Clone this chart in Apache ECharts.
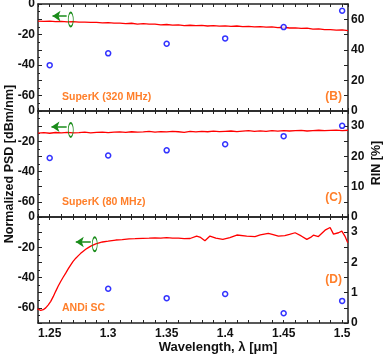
<!DOCTYPE html>
<html>
<head>
<meta charset="utf-8">
<script src="https://cdn.jsdelivr.net/npm/echarts@6/dist/echarts.min.js"></script>
<style>
  html, body { margin: 0; padding: 0; background: #fff; }
  #chart { width: 390px; height: 358px; }
</style>
</head>
<body>
<div id="chart"></div>
<script>
// wavelengths (um) for the SuperK spectra
var wlSpec = [1.240, 1.245, 1.250, 1.255, 1.260, 1.265, 1.270, 1.275, 1.280, 1.285,
  1.290, 1.295, 1.300, 1.305, 1.310, 1.315, 1.320, 1.325, 1.330, 1.335,
  1.340, 1.345, 1.350, 1.355, 1.360, 1.365, 1.370, 1.375, 1.380, 1.385,
  1.390, 1.395, 1.400, 1.405, 1.410, 1.415, 1.420, 1.425, 1.430, 1.435,
  1.440, 1.445, 1.450, 1.455, 1.460, 1.465, 1.470, 1.475, 1.480, 1.485,
  1.490, 1.495, 1.500, 1.505];
// PSD (dBm/nm), SuperK 320 MHz
var psdB = [-11.2, -11.4, -11.2, -11.5, -11.4, -11.7, -11.5, -11.9, -11.8, -12.0,
  -12.0, -12.3, -12.2, -12.5, -12.5, -12.8, -12.6, -13.1, -12.9, -13.2,
  -13.2, -13.6, -13.4, -13.8, -13.7, -14.2, -13.9, -14.2, -14.0, -14.4,
  -14.1, -14.5, -14.3, -14.7, -14.4, -14.8, -14.6, -15.0, -14.8, -15.1,
  -15.0, -15.4, -15.2, -15.7, -15.6, -16.0, -15.8, -16.4, -16.3, -16.7,
  -16.7, -17.1, -16.9, -17.4];
// PSD (dBm/nm), SuperK 80 MHz
var psdC = [-14.6, -14.3, -14.7, -14.2, -14.5, -14.1, -14.4, -14.3, -14.0, -14.4,
  -14.1, -13.9, -14.3, -14.0, -13.8, -14.1, -13.7, -14.0, -13.8, -13.5,
  -13.9, -13.6, -13.8, -13.4, -13.7, -14.1, -13.5, -13.8, -13.4, -13.7,
  -13.3, -13.6, -13.4, -13.2, -13.6, -13.3, -13.0, -13.4, -13.1, -13.5,
  -13.0, -13.3, -12.9, -13.2, -13.0, -12.8, -13.2, -12.9, -12.7, -13.0,
  -12.8, -12.6, -12.9, -12.7];
// ANDi SC spectrum
var wlAndi = [1.2395, 1.2423, 1.2445, 1.2466, 1.2488, 1.2509, 1.2530, 1.2551, 1.2573, 1.2594,
  1.2615, 1.2637, 1.2658, 1.2680, 1.2700, 1.2723, 1.2745, 1.2765, 1.2787, 1.2808,
  1.2830, 1.2851, 1.2894, 1.2951, 1.3000, 1.3065, 1.3120, 1.3179, 1.3230, 1.3294,
  1.3350, 1.3400, 1.3450, 1.3500, 1.3550, 1.3600, 1.3650, 1.3700, 1.3756, 1.3790,
  1.3827, 1.3870, 1.3920, 1.3980, 1.4040, 1.4100, 1.4184, 1.4255, 1.4300, 1.4369,
  1.4410, 1.4455, 1.4510, 1.4550, 1.4598, 1.4650, 1.4698, 1.4730, 1.4754, 1.4797,
  1.4854, 1.4897, 1.4926, 1.4969, 1.4997, 1.5026, 1.5048];
var psdD = [-60.7, -61.6, -61.2, -60.0, -58.0, -55.7, -52.6, -49.1, -45.6, -42.6,
  -39.8, -37.1, -34.3, -31.6, -29.3, -27.2, -25.5, -24.0, -22.6, -21.3,
  -20.2, -19.2, -17.8, -16.5, -16.0, -15.2, -14.9, -14.4, -14.3, -14.1,
  -14.0, -13.8, -14.0, -13.6, -13.9, -14.0, -14.3, -14.2, -12.6, -13.5,
  -15.7, -12.6, -14.0, -14.8, -13.6, -11.9, -12.6, -12.9, -11.8, -10.8,
  -11.6, -12.6, -12.3, -11.5, -10.4, -12.5, -14.8, -13.5, -12.0, -12.9,
  -8.7, -6.9, -11.3, -10.4, -9.3, -13.0, -17.0];

// RIN (%) measured points
var wlRin = [1.25, 1.3, 1.35, 1.4, 1.45, 1.5];
var rinB = [30.0, 37.7, 44.0, 47.5, 54.9, 65.6];
var rinC = [19.5, 20.3, 22.0, 24.0, 26.7, 30.1];
var rinD = [null, 1.13, 0.82, 0.96, 0.32, 0.73];

// tick labels
var wlTicks = [1.25, 1.3, 1.35, 1.4, 1.45, 1.5];
var psdTicks = [-60, -40, -20, 0];
var rinTicks = [[0, 20, 40, 60], [0, 10, 20, 30], [0, 1, 2, 3]];
var rinMax = [70, 35, 3.5];
var rinStep = [10, 5, 0.5];

var panelNames = ['SuperK (320 MHz)', 'SuperK (80 MHz)', 'ANDi SC'];
var panelTags = ['(B)', '(C)', '(D)'];

// arrow + ellipse marking the PSD axis
var arrowPos = [
  {from: [1.2645, -7.9], to: [1.2524, -7.9], ring: [1.268, -10.2]},
  {from: [1.2645, -10.4], to: [1.2515, -10.4], ring: [1.268, -12.5]},
  {from: [1.2851, -16.5], to: [1.2723, -16.5], ring: [1.2885, -18.0]}
];

function pairs(xs, ys) {
  return xs.map(function (x, i) { return [x, ys[i]]; });
}
function notZero(v) { return v !== 0; }

var FONT = 'Liberation Sans, Arial, sans-serif';
var AX = '#222';
var ORANGE = '#ff7f2a';
var GREEN = '#1a8c1a';
var XMIN = 1.24, XMAX = 1.505;

var chart = echarts.init(document.getElementById('chart'), null, {renderer: 'canvas'});

var grids = [
  {left: 38, right: 42, top: 4, height: 107, outerBoundsMode: 'none'},
  {left: 38, right: 42, top: 111, height: 106, outerBoundsMode: 'none'},
  {left: 38, right: 42, top: 217, height: 106, outerBoundsMode: 'none'}
];

var xAxes = [];
var yAxes = [];
var series = [];

function xAxis(i, pos, labels) {
  return {
    type: 'value', gridIndex: i, position: pos,
    min: XMIN, max: XMAX, interval: 0.01,
    axisLine: {onZero: false, lineStyle: {color: AX, width: 1.5}},
    axisTick: {inside: true, length: 3, lineStyle: {color: AX, width: 1}},
    splitLine: {show: false},
    axisLabel: {
      show: labels, margin: 5, customValues: wlTicks,
      color: '#111', fontFamily: FONT, fontWeight: 'bold', fontSize: 12,
      formatter: function (v) { return String(+v.toFixed(2)); }
    }
  };
}
for (var i = 0; i < 3; i++) xAxes.push(xAxis(i, 'bottom', i === 2));
for (var i = 0; i < 3; i++) xAxes.push(xAxis(i, 'top', false));

// the "0" at each panel seam is placed separately (see below), the rest come from the axis
function yLabel(ticks) {
  return {
    margin: 3, customValues: ticks.filter(notZero),
    color: '#111', fontFamily: FONT, fontWeight: 'bold', fontSize: 12
  };
}

for (var i = 0; i < 3; i++) {
  yAxes.push({
    type: 'value', gridIndex: i, position: 'left',
    min: -70, max: 0, interval: 10,
    axisLine: {onZero: false, lineStyle: {color: AX, width: 1.5}},
    axisTick: {inside: true, length: 4, lineStyle: {color: AX}},
    minorTick: {show: true, splitNumber: 2, length: 2, lineStyle: {color: AX}},
    splitLine: {show: false},
    axisLabel: yLabel(psdTicks)
  });
}
for (var i = 0; i < 3; i++) {
  yAxes.push({
    type: 'value', gridIndex: i, position: 'right',
    min: 0, max: rinMax[i], interval: rinStep[i],
    axisLine: {onZero: false, lineStyle: {color: AX, width: 1.5}},
    axisTick: {inside: true, length: 4, lineStyle: {color: AX}},
    splitLine: {show: false},
    axisLabel: yLabel(rinTicks[i])
  });
}

var psdSets = [pairs(wlSpec, psdB), pairs(wlSpec, psdC), pairs(wlAndi, psdD)];
var rinSets = [pairs(wlRin, rinB), pairs(wlRin, rinC), pairs(wlRin, rinD)];

for (var i = 0; i < 3; i++) {
  var a = arrowPos[i];
  series.push({
    type: 'line', xAxisIndex: i, yAxisIndex: i,
    data: psdSets[i], showSymbol: false, symbol: 'none',
    lineStyle: {color: '#ff0000', width: 1.3},
    z: 2,
    markLine: {
      silent: true, symbol: ['none', 'arrow'], symbolSize: 8,
      label: {show: false},
      lineStyle: {color: GREEN, width: 1.5, type: 'solid'},
      data: [[{coord: a.from}, {coord: a.to}]]
    },
    markPoint: {
      silent: true, symbol: 'circle', symbolSize: [5, 14],
      label: {show: false},
      itemStyle: {color: 'rgba(0,0,0,0)', borderColor: GREEN, borderWidth: 1.2},
      data: [{coord: a.ring}]
    }
  });
  series.push({
    type: 'scatter', xAxisIndex: i, yAxisIndex: i + 3,
    data: rinSets[i], symbol: 'circle', symbolSize: 5,
    itemStyle: {color: '#fff', borderColor: '#0000ff', borderWidth: 1.5},
    z: 3
  });
}

var textBold = function (t, x, y, size, color, align, rot) {
  return {
    type: 'text', x: x, y: y, rotation: rot || 0,
    style: {
      text: t, fill: color, font: 'bold ' + size + 'px ' + FONT,
      textAlign: align, textVerticalAlign: 'middle'
    },
    z: 100
  };
};

var graphics = [
  textBold(panelNames[0], 62, 97, 10.5, ORANGE, 'left'),
  textBold(panelTags[0], 342, 97, 12, ORANGE, 'right'),
  textBold(panelNames[1], 62, 202, 10.5, ORANGE, 'left'),
  textBold(panelTags[1], 342, 198, 12, ORANGE, 'right'),
  textBold(panelNames[2], 62, 308, 10.5, ORANGE, 'left'),
  textBold(panelTags[2], 342, 280, 12, ORANGE, 'right'),
  textBold('Wavelength, \u03bb [\u03bcm]', 218, 347, 13, '#111', 'center'),
  textBold('Normalized PSD [dBm/nm]', 10, 164, 12.5, '#111', 'center', Math.PI / 2),
  textBold('RIN [%]', 377, 163, 12.5, '#111', 'center', Math.PI / 2)
];

chart.setOption({
  animation: false,
  backgroundColor: '#fff',
  grid: grids,
  xAxis: xAxes,
  yAxis: yAxes,
  series: series,
  graphic: graphics
});

// zero labels at the panel seams: positions come from the chart's own scales
for (var i = 0; i < 3; i++) {
  if (psdTicks.indexOf(0) >= 0) {
    var pl = chart.convertToPixel({xAxisIndex: i, yAxisIndex: i}, [XMIN, 0]);
    if (pl) graphics.push(textBold('0', pl[0] - 3, pl[1], 12, '#111', 'right'));
  }
  if (rinTicks[i].indexOf(0) >= 0) {
    var pr = chart.convertToPixel({xAxisIndex: i, yAxisIndex: i + 3}, [XMAX, 0]);
    if (pr) graphics.push(textBold('0', pr[0] + 3, pr[1], 12, '#111', 'left'));
  }
}
chart.setOption({graphic: graphics});
</script>
</body>
</html>
